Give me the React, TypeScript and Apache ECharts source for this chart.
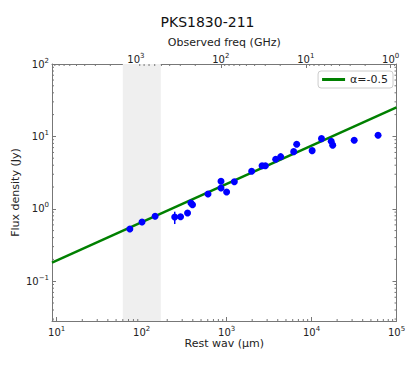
import React, { useEffect, useRef } from 'react';
import * as echarts from 'echarts';

// ---- data ----
const TITLE = 'PKS1830-211';
const X_LABEL = 'Rest wav (μm)';
const Y_LABEL = 'Flux density (Jy)';
const TOP_LABEL = 'Observed freq (GHz)';
const REDSHIFT = 2.507;

const wavelengths = [72.6, 101, 144, 245, 287, 347, 380, 397, 604, 859, 859, 1000, 1233, 1972, 2614, 2860, 3784, 4333, 6166, 6688, 10160, 13090, 17030, 17740, 31780, 60670];
const fluxes = [0.526, 0.657, 0.788, 0.77, 0.778, 0.875, 1.2, 1.14, 1.6, 2.4, 1.94, 1.71, 2.37, 3.3, 3.94, 3.94, 4.84, 5.25, 6.16, 7.79, 6.36, 9.31, 8.58, 7.57, 8.85, 10.4];
// [wavelength, low, high]
const errorBars = [[245, 0.616, 0.912]];

const fitLabel = 'α=-0.5';
const fitWav = [8.8, 100000];
const fitFlux = [0.18, 25.1];

const bandWav = [60, 168];

const xRange = [8.8, 100000];
const yRange = [0.0282, 100];

// ---- helpers ----
const C_UM_GHZ = 299792.458; // c in μm·GHz
const K = C_UM_GHZ / (1 + REDSHIFT);
const fRange = [K / xRange[1], K / xRange[0]];

const FONT = 'DejaVu Sans';
const TXT = '#222';
const FRAME = '#777';

function minorTicks(lo: number, hi: number): number[] {
  const out: number[] = [];
  for (let e = Math.floor(Math.log10(lo)) - 1; e <= Math.ceil(Math.log10(hi)); e++) {
    for (let m = 2; m <= 9; m++) {
      const v = m * Math.pow(10, e);
      if (v > lo * 1.0001 && v < hi * 0.9999) out.push(v);
    }
  }
  return out;
}

function powLabel(v: number): string {
  const l = Math.log10(v);
  const e = Math.round(l);
  if (Math.abs(l - e) > 1e-6) return '';
  const s = e < 0 ? '−' + -e : String(e);
  return '{b|10}{s|' + s + '}';
}

const richLabel = {
  b: { fontSize: 10, fontFamily: FONT, color: TXT },
  s: { fontSize: 7, fontFamily: FONT, color: TXT, padding: [0, 0, 7, 0] },
};

export default function App() {
  const ref = useRef<HTMLDivElement>(null);
  useEffect(() => {
    document.body.style.margin = '0';
    if (!ref.current) return;
    const chart = echarts.init(ref.current, undefined, { renderer: 'svg' });

    const tickLine = (x1: number, y1: number, x2: number, y2: number) => ({
      type: 'line',
      shape: { x1, y1, x2, y2 },
      style: { stroke: FRAME, lineWidth: 1 },
    });

    const option: any = {
      animation: false,
      title: {
        text: TITLE,
        left: 'center',
        top: 10,
        textStyle: { fontFamily: FONT, fontSize: 14, fontWeight: 'normal', color: '#111' },
      },
      legend: {
        data: [{ name: fitLabel, icon: 'rect' }],
        right: 22,
        top: 71,
        itemWidth: 23,
        itemHeight: 3,
        itemGap: 5,
        padding: [3, 5, 3, 4],
        borderColor: '#ccc',
        borderWidth: 1,
        borderRadius: 3,
        backgroundColor: '#fff',
        textStyle: { fontFamily: FONT, fontSize: 11, color: TXT },
      },
      grid: { left: 52, right: 18.5, top: 64, bottom: 44, containLabel: false, outerBoundsMode: 'none' },
      xAxis: [
        {
          type: 'log',
          logBase: 10,
          min: xRange[0],
          max: xRange[1],
          position: 'bottom',
          name: X_LABEL,
          nameLocation: 'middle',
          nameGap: 17,
          nameMoveOverlap: false,
          nameTextStyle: { fontFamily: FONT, fontSize: 11, color: TXT },
          axisLine: { show: true, lineStyle: { color: FRAME, width: 1 } },
          axisTick: { show: true, inside: true, length: 4, lineStyle: { color: FRAME } },
          axisLabel: { formatter: powLabel, rich: richLabel, margin: 4 },
          splitLine: { show: false },
        },
        {
          type: 'log',
          logBase: 10,
          min: fRange[0],
          max: fRange[1],
          inverse: true,
          position: 'top',
          name: TOP_LABEL,
          nameLocation: 'middle',
          nameGap: 16,
          nameMoveOverlap: false,
          nameTextStyle: { fontFamily: FONT, fontSize: 11, color: TXT },
          axisLine: { show: true, lineStyle: { color: FRAME, width: 1 } },
          axisTick: { show: true, inside: true, length: 4, lineStyle: { color: FRAME } },
          axisLabel: { formatter: powLabel, rich: richLabel, margin: -2 },
          splitLine: { show: false },
        },
      ],
      yAxis: [
        {
          type: 'log',
          logBase: 10,
          min: yRange[0],
          max: yRange[1],
          position: 'left',
          name: Y_LABEL,
          nameLocation: 'middle',
          nameGap: 31,
          nameMoveOverlap: false,
          nameRotate: 90,
          nameTextStyle: { fontFamily: FONT, fontSize: 11, color: TXT },
          axisLine: { show: true, lineStyle: { color: FRAME, width: 1 } },
          axisTick: { show: true, inside: true, length: 4, lineStyle: { color: FRAME } },
          axisLabel: { formatter: powLabel, rich: richLabel, margin: 3 },
          splitLine: { show: false },
        },
        {
          type: 'log',
          logBase: 10,
          min: yRange[0],
          max: yRange[1],
          position: 'right',
          axisLine: { show: true, lineStyle: { color: FRAME, width: 1 } },
          axisTick: { show: true, inside: true, length: 4, lineStyle: { color: FRAME } },
          axisLabel: { show: false },
          splitLine: { show: false },
        },
      ],
      series: [
        {
          name: 'band',
          type: 'line',
          data: [],
          z: 1,
          silent: true,
          markArea: {
            silent: true,
            itemStyle: { color: '#efefef' },
            data: [[{ xAxis: bandWav[0] }, { xAxis: bandWav[1] }]],
          },
        },
        {
          name: fitLabel,
          type: 'line',
          z: 3,
          symbol: 'none',
          color: '#008000',
          lineStyle: { color: '#008000', width: 2.5 },
          data: fitWav.map((w, i) => [w, fitFlux[i]]),
        },
        {
          name: 'errors',
          type: 'custom',
          z: 4,
          silent: true,
          data: errorBars,
          renderItem: (params: any, api: any) => {
            const lo = api.coord([api.value(0), api.value(1)]);
            const hi = api.coord([api.value(0), api.value(2)]);
            return {
              type: 'line',
              shape: { x1: lo[0], y1: lo[1], x2: hi[0], y2: hi[1] },
              style: { stroke: '#0000ff', lineWidth: 1.5 },
            };
          },
        },
        {
          name: 'data',
          type: 'scatter',
          z: 5,
          symbol: 'circle',
          symbolSize: 7,
          itemStyle: { color: '#0000ff', opacity: 1 },
          data: wavelengths.map((w, i) => [w, fluxes[i]]),
        },
        {
          name: 'xminor',
          type: 'custom',
          silent: true,
          z: 6,
          data: minorTicks(xRange[0], xRange[1]).map((v) => [v, yRange[0]]),
          renderItem: (params: any, api: any) => {
            const b = api.coord([api.value(0), yRange[0]]);
            return tickLine(b[0], b[1], b[0], b[1] - 2);
          },
        },
        {
          name: 'fminor',
          type: 'custom',
          silent: true,
          z: 6,
          xAxisIndex: 1,
          data: minorTicks(fRange[0], fRange[1]).map((v) => [v, yRange[1]]),
          renderItem: (params: any, api: any) => {
            const t = api.coord([api.value(0), yRange[1]]);
            return tickLine(t[0], t[1], t[0], t[1] + 2);
          },
        },
        {
          name: 'yminor',
          type: 'custom',
          silent: true,
          z: 6,
          data: minorTicks(yRange[0], yRange[1]).map((v) => [xRange[0], v]),
          renderItem: (params: any, api: any) => {
            const l = api.coord([xRange[0], api.value(1)]);
            const r = api.coord([xRange[1], api.value(1)]);
            return {
              type: 'group',
              children: [tickLine(l[0], l[1], l[0] + 2, l[1]), tickLine(r[0], r[1], r[0] - 2, r[1])],
            };
          },
        },
      ],
    };
    chart.setOption(option);
    return () => chart.dispose();
  }, []);
  return <div ref={ref} style={{ width: 415, height: 365 }} />;
}
